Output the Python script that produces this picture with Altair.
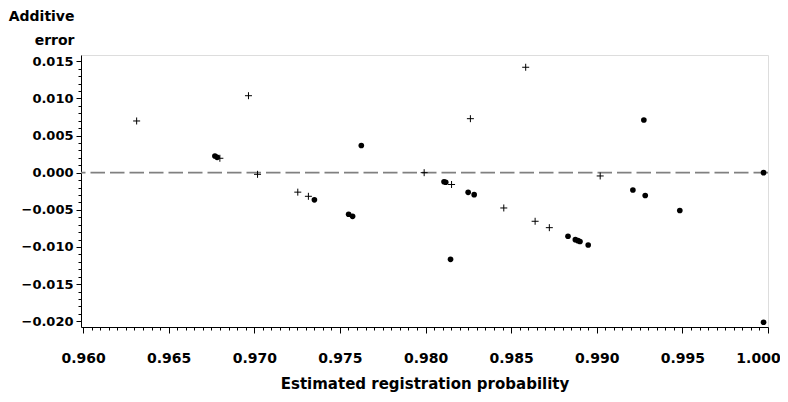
import altair as alt
import pandas as pd

# "+" series (estimated registration probability, additive error)
cross_x = [0.96313, 0.96966, 0.96799, 0.97019, 0.97254, 0.97316, 0.97992,
           0.98152, 0.98262, 0.98585, 0.98457, 0.98640, 0.98723, 0.99020]
cross_y = [0.00696, 0.01036, 0.00194, -0.00022, -0.00262, -0.00318, 0.00000,
           -0.00159, 0.00727, 0.01419, -0.00475, -0.00654, -0.00740, -0.00044]

# filled-dot series
dot_x = [0.96770, 0.96783, 0.97351, 0.97551, 0.97574, 0.97625, 0.98118, 0.98108,
         0.98146, 0.98249, 0.98284, 0.98832, 0.98875, 0.98890, 0.98902, 0.98950,
         0.99211, 0.99275, 0.99283, 0.99485, 0.99974, 0.99974]
dot_y = [0.00225, 0.00207, -0.00365, -0.00560, -0.00587, 0.00366, -0.00129, -0.00122,
         -0.01166, -0.00264, -0.00296, -0.00855, -0.00902, -0.00915, -0.00926, -0.00973,
         -0.00233, 0.00709, -0.00307, -0.00509, 0.00000, -0.02013]

x_major = [0.960, 0.965, 0.970, 0.975, 0.980, 0.985, 0.990, 0.995, 1.000]
y_major = [-0.020, -0.015, -0.010, -0.005, 0.000, 0.005, 0.010, 0.015]

x_ticks = [round(0.960 + i * 0.0005, 4) for i in range(81)]
y_ticks = [round(-0.020 + i * 0.001, 3) for i in range(36)]

x_domain = [0.95988, 1.0]
y_domain = [-0.02077, 0.01584]

FONT = "DejaVu Sans"
major_test = "abs(datum.value*200 - round(datum.value*200)) < 0.001"

x_axis = alt.Axis(
    values=x_ticks,
    labelExpr=f"{major_test} ? format(datum.value, '.3f') : ''",
    tickSize={"condition": {"test": major_test, "value": 6}, "value": 3},
    labelOffset={"condition": {"test": "datum.value > 0.9999", "value": -10}, "value": 0},
    labelPadding=18,
    labelFont=FONT, labelFontSize=14, labelFontWeight="bold", labelColor="black",
    labelOverlap=False, labelFlush=False, labelBound=False,
    title="Estimated registration probability",
    titleFont=FONT, titleFontSize=15, titleFontWeight="bold", titleColor="black",
    titleY=61, titleBaseline="alphabetic",
    grid=False, domainColor="black", tickColor="black",
)

y_axis = alt.Axis(
    values=y_ticks,
    labelExpr=f"{major_test} ? format(datum.value, '.3f') : ''",
    tickSize={"condition": {"test": major_test, "value": 5}, "value": 3},
    labelPadding=3,
    labelFont=FONT, labelFontSize=13, labelFontWeight="bold", labelColor="black",
    labelOverlap=False, labelFlush=False, labelBound=False,
    title=["Additive", "error"],
    titleFont=FONT, titleFontSize=14, titleFontWeight="bold", titleColor="black",
    titleAngle=0, titleAlign="right", titleBaseline="alphabetic",
    titleX=-7, titleY=-35, titleLineHeight=24,
    grid=False, domainColor="black", tickColor="black",
)

X = alt.X("x:Q", scale=alt.Scale(domain=x_domain, nice=False, zero=False), axis=x_axis)
Y = alt.Y("y:Q", scale=alt.Scale(domain=y_domain, nice=False, zero=False), axis=y_axis)

cross_df = pd.DataFrame({"x": cross_x, "y": cross_y})
dot_df = pd.DataFrame({"x": dot_x, "y": dot_y})
zero_df = pd.DataFrame({"y": [0.0]})

zero_line = alt.Chart(zero_df).mark_rule(
    color="#808080", strokeWidth=1.8, strokeDash=[14.5, 5]
).encode(y=Y)

crosses = alt.Chart(cross_df).mark_point(
    shape="M-1,0L1,0M0,-1L0,1", filled=False, color="black",
    strokeWidth=1, size=49, opacity=1
).encode(x=X, y=Y)

dots = alt.Chart(dot_df).mark_point(
    shape="circle", filled=True, color="black", size=32, opacity=1
).encode(x=X, y=Y)

chart = alt.layer(zero_line, crosses, dots).properties(
    width=687, height=272,
    autosize=alt.AutoSizeParams(type="none"),
    padding={"left": 73, "top": 47, "right": 12, "bottom": 67},
).configure_view(stroke="black", strokeWidth=1).configure(background="white")

chart.save("out.html", embed_options={"renderer": "svg", "actions": False})
